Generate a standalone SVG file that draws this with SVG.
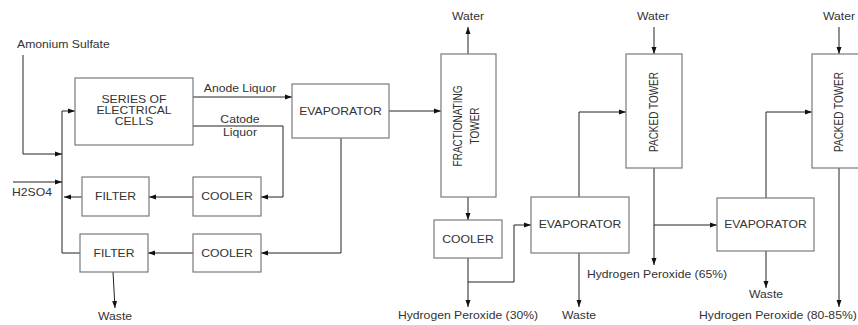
<svg xmlns="http://www.w3.org/2000/svg" width="858" height="325" viewBox="0 0 858 325">
<style>
.bg{fill:#ffffff}
.box{fill:#ffffff;stroke:#7a7a7a;stroke-width:1.2}
.ln{fill:none;stroke:#222;stroke-width:1}
.arr{marker-end:url(#ah)}
text{font-family:"Liberation Sans",Arial,sans-serif;font-size:10px;fill:#333}
.m{text-anchor:middle}
</style>
<defs>
<marker id="ah" markerUnits="userSpaceOnUse" markerWidth="8" markerHeight="6" refX="7" refY="3" orient="auto">
<path d="M0,0.5 L7,3 L0,5.5 Z" fill="#111"/>
</marker>
</defs>
<rect class="bg" x="0" y="0" width="858" height="325"/>

<g id="connectors">
<polyline class="ln arr" points="23,55 23,154 62,154"/>
<polyline class="ln" points="62,111 62,253 80,253"/>
<line class="ln arr" x1="62" y1="111" x2="75" y2="111"/>
<line class="ln arr" x1="13" y1="182" x2="62" y2="182"/>
<line class="ln arr" x1="82" y1="197" x2="64" y2="197"/>
<line class="ln arr" x1="193" y1="197" x2="149" y2="197"/>
<polyline class="ln arr" points="193,126 283,126 283,197 261,197"/>
<line class="ln arr" x1="193" y1="97" x2="292" y2="97"/>
<line class="ln arr" x1="389" y1="111" x2="441" y2="111"/>
<polyline class="ln arr" points="341,138 341,253 261,253"/>
<line class="ln arr" x1="193" y1="253" x2="148" y2="253"/>
<line class="ln arr" x1="113" y1="272" x2="115" y2="308"/>
<line class="ln arr" x1="468" y1="54" x2="468" y2="27"/>
<line class="ln arr" x1="468" y1="197" x2="468" y2="220"/>
<line class="ln arr" x1="468" y1="258" x2="468" y2="307"/>
<polyline class="ln arr" points="468,282 514,282 514,225 531,225"/>
<polyline class="ln arr" points="579,197 579,112 626,112"/>
<line class="ln arr" x1="579" y1="253" x2="579" y2="307"/>
<line class="ln arr" x1="654" y1="27" x2="654" y2="54"/>
<line class="ln arr" x1="654" y1="168" x2="654" y2="265"/>
<line class="ln arr" x1="654" y1="225" x2="717" y2="225"/>
<polyline class="ln arr" points="766,198 766,112 812,112"/>
<line class="ln arr" x1="766" y1="251" x2="766" y2="288"/>
<line class="ln arr" x1="839" y1="27" x2="839" y2="54"/>
<line class="ln arr" x1="839" y1="168" x2="839" y2="307"/>
</g>

<g id="labels">
<text transform="translate(17,48) scale(1.22,1)">Amonium Sulfate</text>
<text transform="translate(12,196) scale(1.22,1)">H2SO4</text>
<text class="m" transform="translate(240,92) scale(1.22,1)">Anode Liquor</text>
<text class="m" transform="translate(240,123) scale(1.22,1)">Catode</text>
<text class="m" transform="translate(240,136) scale(1.22,1)">Liquor</text>
<text class="m" transform="translate(115,320) scale(1.22,1)">Waste</text>
<text class="m" transform="translate(468,20) scale(1.22,1)">Water</text>
<text class="m" transform="translate(468,319) scale(1.22,1)">Hydrogen Peroxide (30%)</text>
<text class="m" transform="translate(579,319) scale(1.22,1)">Waste</text>
<text class="m" transform="translate(653,20) scale(1.22,1)">Water</text>
<text class="m" transform="translate(657,278) scale(1.22,1)">Hydrogen Peroxide (65%)</text>
<text class="m" transform="translate(766,298) scale(1.22,1)">Waste</text>
<text class="m" transform="translate(839,20) scale(1.22,1)">Water</text>
<text transform="translate(699,319) scale(1.22,1)">Hydrogen Peroxide (80-85%)</text>
</g>

<g id="series-cells">
<rect class="box" x="75" y="78" width="118" height="67"/>
<text class="m" transform="translate(134,103) scale(1.22,1)">SERIES OF</text>
<text class="m" transform="translate(134,114) scale(1.22,1)">ELECTRICAL</text>
<text class="m" transform="translate(134,125) scale(1.22,1)">CELLS</text>
</g>
<g id="filter1">
<rect class="box" x="82" y="177" width="67" height="39"/>
<text class="m" transform="translate(115.5,200) scale(1.22,1)">FILTER</text>
</g>
<g id="cooler1">
<rect class="box" x="193" y="177" width="68" height="39"/>
<text class="m" transform="translate(227,200) scale(1.22,1)">COOLER</text>
</g>
<g id="filter2">
<rect class="box" x="80" y="234" width="68" height="38"/>
<text class="m" transform="translate(114,257) scale(1.22,1)">FILTER</text>
</g>
<g id="cooler2">
<rect class="box" x="193" y="234" width="68" height="38"/>
<text class="m" transform="translate(227,257) scale(1.22,1)">COOLER</text>
</g>
<g id="evaporator1">
<rect class="box" x="292" y="84" width="97" height="54"/>
<text class="m" transform="translate(340.5,115) scale(1.22,1)">EVAPORATOR</text>
</g>
<g id="fractionating-tower">
<rect class="box" x="441" y="54" width="55" height="143"/>
<text class="m" transform="translate(462,126) scale(1.22,1) rotate(-90)">FRACTIONATING</text>
<text class="m" transform="translate(479,126) scale(1.22,1) rotate(-90)">TOWER</text>
</g>
<g id="cooler3">
<rect class="box" x="434" y="220" width="68" height="38"/>
<text class="m" transform="translate(468,243) scale(1.22,1)">COOLER</text>
</g>
<g id="evaporator2">
<rect class="box" x="531" y="197" width="98" height="56"/>
<text class="m" transform="translate(580,228) scale(1.22,1)">EVAPORATOR</text>
</g>
<g id="packed-tower1">
<rect class="box" x="626" y="54" width="56" height="114"/>
<text class="m" transform="translate(657.5,112) scale(1.22,1) rotate(-90)">PACKED TOWER</text>
</g>
<g id="evaporator3">
<rect class="box" x="717" y="198" width="97" height="53"/>
<text class="m" transform="translate(765.5,228) scale(1.22,1)">EVAPORATOR</text>
</g>
<g id="packed-tower2">
<rect class="box" x="812" y="54" width="60" height="114"/>
<text class="m" transform="translate(843,112) scale(1.22,1) rotate(-90)">PACKED TOWER</text>
</g>
</svg>
